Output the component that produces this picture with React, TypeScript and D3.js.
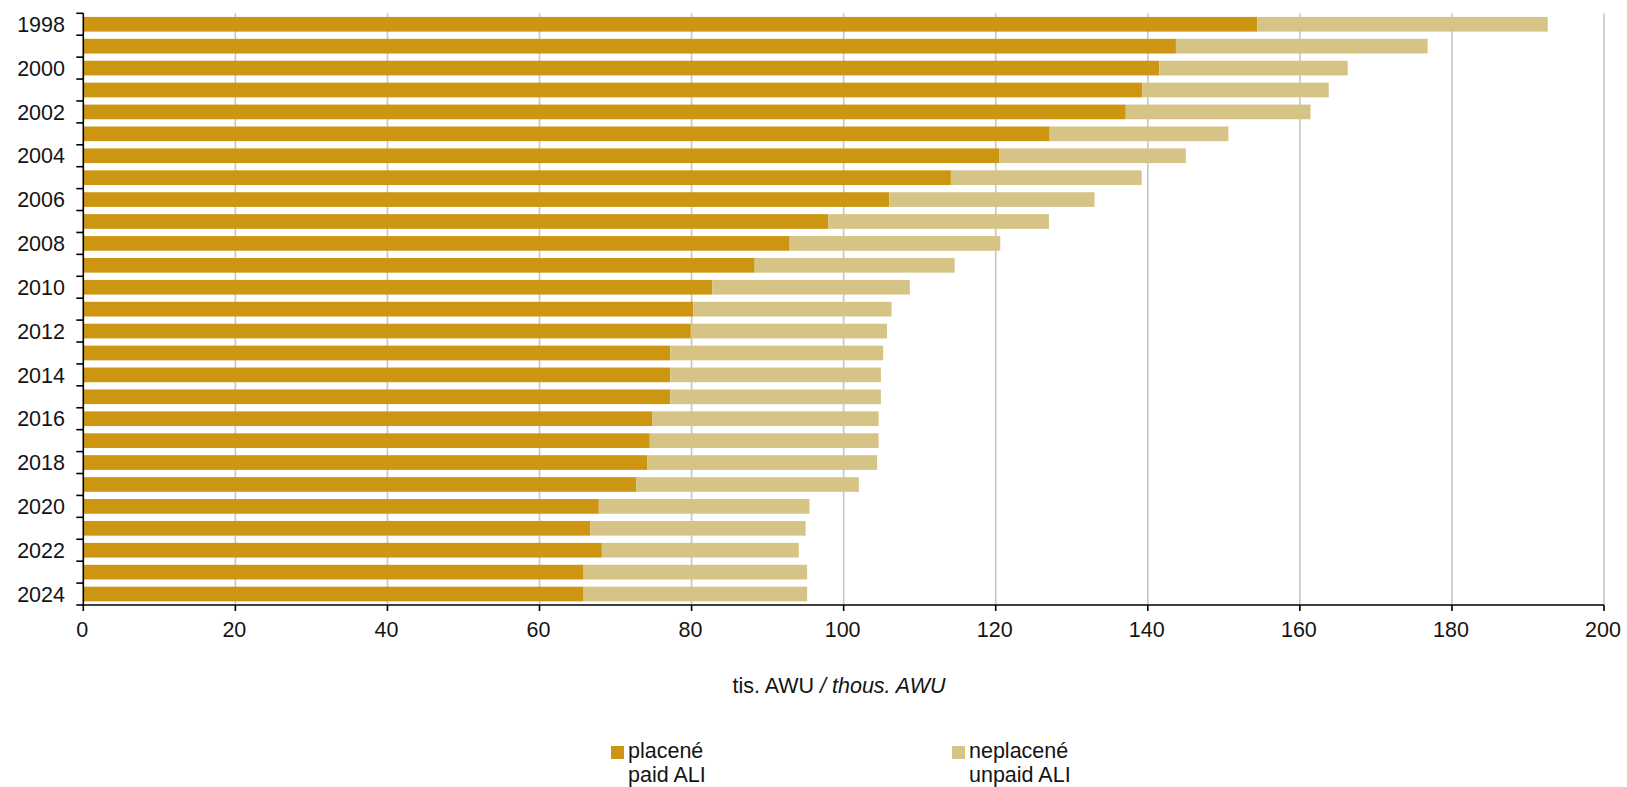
import React from "react";
import * as d3 from "d3";

const years = [
  "1998","1999","2000","2001","2002","2003","2004","2005","2006","2007",
  "2008","2009","2010","2011","2012","2013","2014","2015","2016","2017",
  "2018","2019","2020","2021","2022","2023","2024",
];
const paid = [
  154.4, 143.7, 141.5, 139.3, 137.1, 127.1, 120.5, 114.1, 106.0, 98.0,
  92.9, 88.3, 82.7, 80.2, 79.9, 77.2, 77.2, 77.2, 74.8, 74.5,
  74.2, 72.7, 67.8, 66.7, 68.2, 65.8, 65.8,
];
const unpaid = [
  38.2, 33.1, 24.8, 24.5, 24.3, 23.5, 24.5, 25.1, 27.0, 29.0,
  27.7, 26.3, 26.0, 26.1, 25.8, 28.0, 27.7, 27.7, 29.8, 30.1,
  30.2, 29.3, 27.7, 28.3, 25.9, 29.4, 29.4,
];
const xTicks = [0, 20, 40, 60, 80, 100, 120, 140, 160, 180, 200];
const seriesNames = [
  { l1: "placené", l2: "paid ALI" },
  { l1: "neplacené", l2: "unpaid ALI" },
];
const colors = ["#cc9612", "#d6c486"];

const W = 1627;
const H = 787;
const FONT = "'Liberation Sans', Arial, sans-serif";

export default function App() {
  const left = 83.3;
  const right = 1604;
  const top = 13.3;
  const bottom = 605;

  const x = d3.scaleLinear().domain([0, 200]).range([left, right]);
  const y = d3
    .scaleBand<string>()
    .domain(years)
    .range([top, bottom])
    .paddingInner(0.33)
    .paddingOuter(0.165);
  const step = y.step();
  const boundaries = d3.range(years.length + 1).map((i) => top + i * step);

  const rows = years.map((yr, i) => ({ yr, paid: paid[i], unpaid: unpaid[i] }));
  const stack = d3.stack<any>().keys(["paid", "unpaid"])(rows);

  return (
    <svg
      width={W}
      height={H}
      style={{ position: "absolute", left: 0, top: 0, background: "#fff" }}
      fontFamily={FONT}
    >
      {xTicks.filter((t) => t > 0).map((t) => (
        <line
          key={"g" + t}
          x1={x(t)}
          x2={x(t)}
          y1={top}
          y2={bottom}
          stroke="#c6c6c6"
          strokeWidth={1.6}
        />
      ))}
      {stack.map((s, si) =>
        s.map((d, i) => (
          <rect
            key={si + "-" + i}
            x={x(d[0])}
            y={y(years[i])}
            width={x(d[1]) - x(d[0])}
            height={y.bandwidth()}
            fill={colors[si]}
          />
        ))
      )}
      <line x1={left} x2={left} y1={top} y2={bottom} stroke="#000" strokeWidth={1.6} />
      {boundaries.map((b, i) => (
        <line key={"yt" + i} x1={left - 7} x2={left} y1={b} y2={b} stroke="#000" strokeWidth={1.6} />
      ))}
      {years.map((yr, i) =>
        i % 2 === 0 ? (
          <text
            key={"yl" + yr}
            x={65}
            y={(y(yr) as number) + y.bandwidth() / 2}
            dy="0.36em"
            textAnchor="end"
            fontSize={21.5}
            fill="#141414"
          >
            {yr}
          </text>
        ) : null
      )}
      <line x1={left} x2={right} y1={bottom} y2={bottom} stroke="#000" strokeWidth={1.6} />
      {xTicks.map((t) => (
        <g key={"xt" + t}>
          <line x1={x(t)} x2={x(t)} y1={bottom} y2={bottom + 6} stroke="#000" strokeWidth={1.6} />
          <text
            x={x(t) - 1}
            y={636.5}
            textAnchor="middle"
            fontSize={21.5}
            fill="#141414"
          >
            {t}
          </text>
        </g>
      ))}
      <text x={839} y={693} textAnchor="middle" fontSize={21.5} fill="#141414">
        tis. AWU <tspan fontStyle="italic">/ thous. AWU</tspan>
      </text>
      {seriesNames.map((s, i) => {
        const lx = i === 0 ? 611 : 952;
        return (
          <g key={"lg" + i}>
            <rect x={lx} y={746} width={13} height={13} fill={colors[i]} />
            <text x={lx + 17} y={758} fontSize={21.5} fill="#141414">
              {s.l1}
            </text>
            <text x={lx + 17} y={782} fontSize={21.5} fill="#141414">
              {s.l2}
            </text>
          </g>
        );
      })}
    </svg>
  );
}
